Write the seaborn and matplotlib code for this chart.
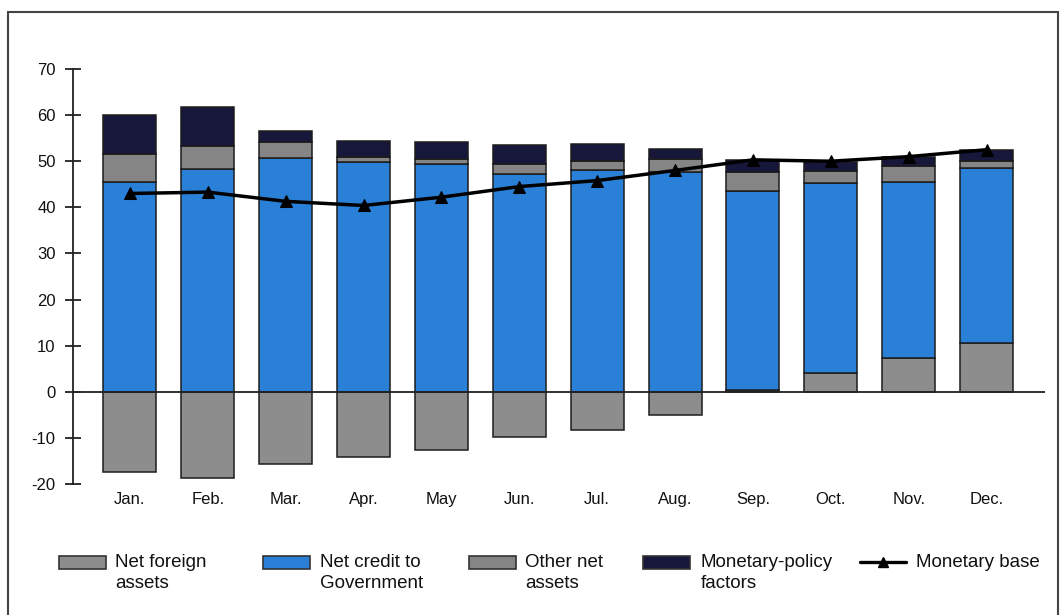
import numpy as np
import pandas as pd
import matplotlib
matplotlib.use("Agg")
import matplotlib.pyplot as plt
from matplotlib.patches import Rectangle
from matplotlib.lines import Line2D
import seaborn as sns

months = ["Jan.", "Feb.", "Mar.", "Apr.", "May", "Jun.", "Jul.", "Aug.", "Sep.", "Oct.", "Nov.", "Dec."]
net_foreign_assets = [-17.5, -18.7, -15.6, -14.2, -12.6, -9.8, -8.3, -5.0, 0.3, 4.0, 7.3, 10.5]
net_credit_government = [45.5, 48.4, 50.6, 49.8, 49.4, 47.3, 48.0, 47.6, 43.3, 41.2, 38.2, 38.1]
other_net_assets = [6.1, 5.0, 3.5, 1.1, 1.1, 2.2, 2.1, 2.9, 4.1, 2.6, 3.4, 1.5]
monetary_policy = [8.5, 8.3, 2.5, 3.5, 3.7, 4.1, 3.6, 2.1, 2.6, 2.0, 2.1, 2.4]
monetary_base = [43.0, 43.3, 41.3, 40.4, 42.2, 44.5, 45.8, 48.0, 50.3, 50.0, 51.0, 52.5]
yticks = [-20, -10, 0, 10, 20, 30, 40, 50, 60, 70]

C_NFA = "#8d8d8d"
C_NCG = "#2a7fd6"
C_ONA = "#858585"
C_MP = "#16173a"
EDGE = "#1c1c1c"

sns.set_style("white")
plt.rcParams["font.family"] = ["Liberation Sans", "DejaVu Sans"]

df = pd.DataFrame({
    "month": months,
    "nfa": net_foreign_assets,
    "ncg": net_credit_government,
    "ona": other_net_assets,
    "mp": monetary_policy,
    "base": monetary_base,
})
b_ncg = np.clip(df["nfa"].values, 0, None)
b_ona = b_ncg + df["ncg"].values
b_mp = b_ona + df["ona"].values

fig = plt.figure(figsize=(10.61, 6.15), dpi=100)
ax = fig.add_axes([73 / 1061, 1 - 484 / 615, (1045 - 73) / 1061, (484 - 69) / 615])

common = dict(order=months, width=0.68, edgecolor=EDGE, linewidth=1.1, ax=ax, zorder=2)
sns.barplot(data=df, x="month", y="nfa", color=C_NFA, saturation=1, **common)
sns.barplot(data=df, x="month", y="ncg", color=C_NCG, saturation=1, bottom=b_ncg, **common)
sns.barplot(data=df, x="month", y="ona", color=C_ONA, saturation=1, bottom=b_ona, **common)
sns.barplot(data=df, x="month", y="mp", color=C_MP, saturation=1, bottom=b_mp, **common)

ax.axhline(0, color="#222222", lw=1.3, zorder=3)
sns.lineplot(x=np.arange(len(months)), y=df["base"].values, ax=ax, color="black", lw=2.5,
             marker="^", markersize=9, markeredgecolor="black", zorder=5)

ax.set_xlim(-0.73, 11.75)
ax.set_ylim(-20, 70)
ax.set_yticks(yticks)
ax.set_yticklabels([str(t) for t in yticks])
ax.set_xlabel("")
ax.set_ylabel("")
for s in ["top", "right", "bottom"]:
    ax.spines[s].set_visible(False)
ax.spines["left"].set_color("#222222")
ax.spines["left"].set_linewidth(1.3)
ax.tick_params(axis="y", direction="inout", length=11, width=1.3, color="#222222",
               labelsize=12, pad=7, left=True)
ax.tick_params(axis="x", length=0, labelsize=12, pad=6)
for lab in ax.get_xticklabels() + ax.get_yticklabels():
    lab.set_color("#111111")

# outer frame
fig.patches.append(Rectangle((8 / 1061, -0.02), (1058 - 8) / 1061, 1 - 12 / 615 + 0.02,
                             transform=fig.transFigure, fill=False, edgecolor="#444444", lw=1.5))

# legend
W, H = 1061, 615
items = [
    ("patch", C_NFA, 59, 115, "Net foreign\nassets"),
    ("patch", C_NCG, 263, 320, "Net credit to\nGovernment"),
    ("patch", C_ONA, 469, 525, "Other net\nassets"),
    ("patch", C_MP, 643, 701, "Monetary-policy\nfactors"),
    ("line", "black", 860, 916, "Monetary base"),
]
for kind, col, x0, tx, label in items:
    if kind == "patch":
        fig.patches.append(Rectangle((x0 / W, 1 - 569 / H), 47 / W, 13 / H, transform=fig.transFigure,
                                     facecolor=col, edgecolor="#333333", lw=1.2))
    else:
        fig.lines.append(Line2D([x0 / W, (x0 + 46) / W], [1 - 562 / H, 1 - 562 / H], transform=fig.transFigure,
                                color="black", lw=2.4))
        fig.lines.append(Line2D([(x0 + 23) / W], [1 - 562 / H], transform=fig.transFigure,
                                color="black", marker="^", markersize=7))
    fig.text(tx / W, 1 - 554 / H, label, ha="left", va="top", fontsize=13.5, color="#111111",
             linespacing=1.28)

fig.savefig("out.png", dpi=100)
